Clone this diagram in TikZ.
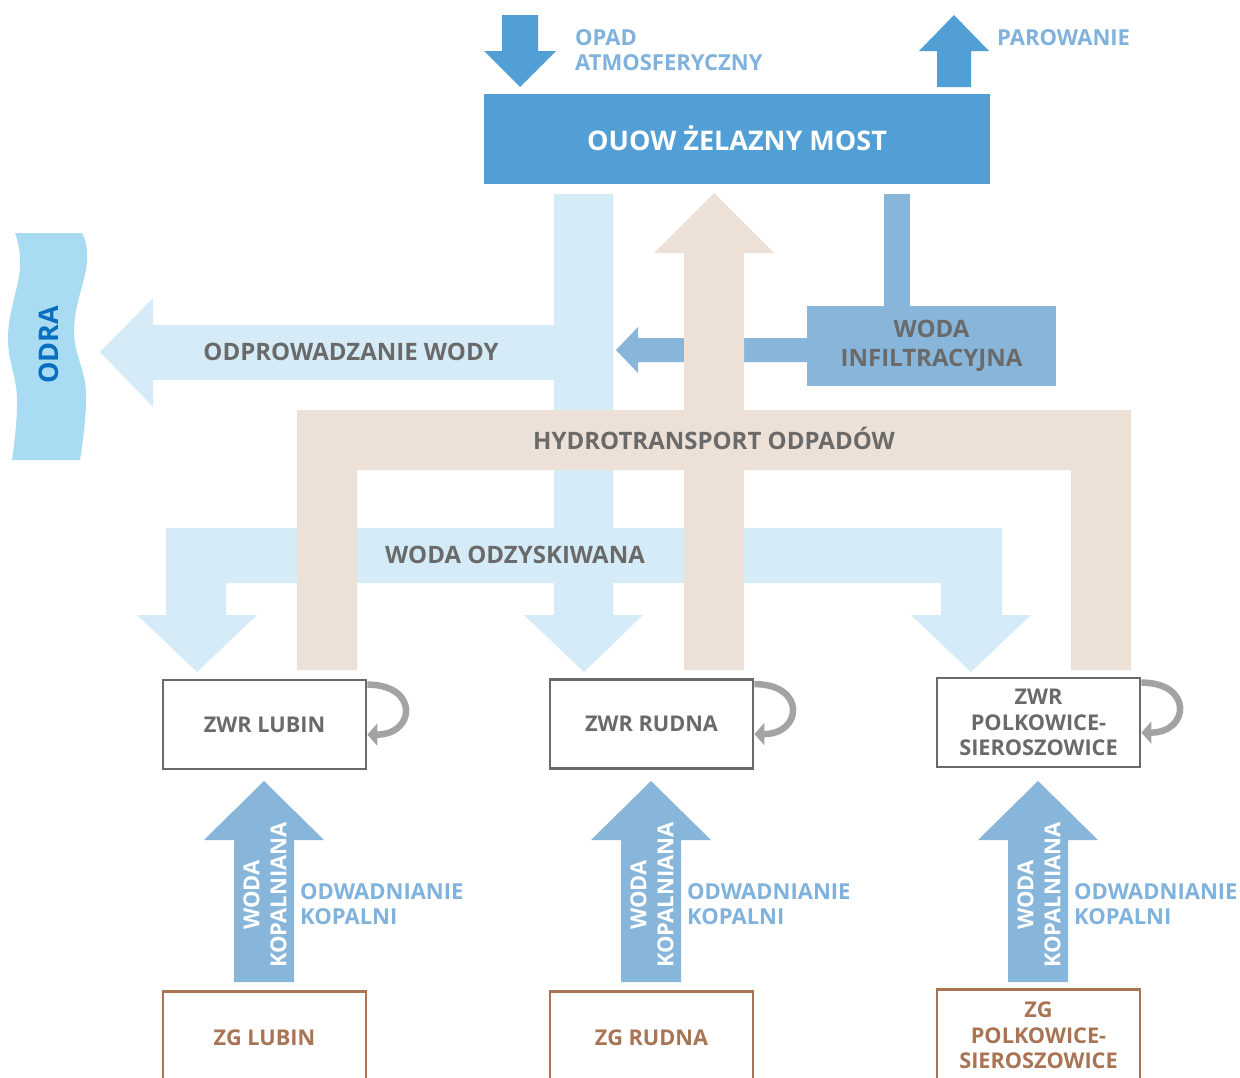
\documentclass[tikz,border=0pt]{standalone}
\usepackage{fontspec}
\setmainfont{Open Sans}
\usetikzlibrary{arrows.meta}
\definecolor{mostblue}{RGB}{82,159,214}
\definecolor{midblue}{RGB}{136,182,218}
\definecolor{paleblue}{RGB}{213,236,248}
\definecolor{sludge}{RGB}{237,224,214}
\definecolor{greytext}{RGB}{106,106,106}
\definecolor{labelblue}{RGB}{127,178,220}
\definecolor{minebrown}{RGB}{168,116,84}
\definecolor{riverblue}{RGB}{169,220,243}
\definecolor{odrablue}{RGB}{10,110,192}
\definecolor{loopgrey}{RGB}{163,163,163}

\begin{document}
\begin{tikzpicture}[x=1pt,y=-1pt,
  lbl/.style={text=greytext,font=\bfseries\fontsize{24}{29}\selectfont,align=center,inner sep=0pt},
  side/.style={text=labelblue,font=\bfseries\fontsize{22}{25}\selectfont,align=left,anchor=west,inner sep=0pt},
  plant/.style={draw=greytext,line width=2.8pt,fill=white,minimum width=203pt,minimum height=89pt,
                inner sep=0pt,align=center,text=greytext,font=\bfseries\fontsize{21.7}{25.5}\selectfont},
  mine/.style={plant,draw=minebrown,text=minebrown,minimum height=92pt},
  recycle/.style={draw=loopgrey,line width=6.5pt,-{Triangle[length=10pt,width=22pt]}},
]
\useasboundingbox (0,0) rectangle (1240,1077);
\clip (0,0) rectangle (1240,1077);
\fill[white] (0,0) rectangle (1240,1077);
% ---------- reservoir ----------
\fill[mostblue] (502,15) -- (538,15) -- (538,51) -- (556,51) -- (520,87) -- (484,51) -- (502,51) -- cycle;
\fill[mostblue] (937,87) -- (971,87) -- (971,51) -- (989,51) -- (954,15) -- (919,51) -- (937,51) -- cycle;
\node[side] (opad) at (575,50.5) {OPAD\\ATMOSFERYCZNY};
\node[side] (parow) at (997,38) {PAROWANIE};
\node[fill=mostblue,minimum width=506pt,minimum height=90pt,text=white,
      font=\bfseries\fontsize{27}{30}\selectfont] (ouow) at (737,139) {\raisebox{2pt}{OUOW ŻELAZNY MOST}};
% ---------- river ----------
\fill[riverblue] plot[smooth,tension=0.7] coordinates {(82,233) (87,262) (74,330) (86,392) (80,460)}
      -- plot[smooth,tension=0.7] coordinates {(12,460) (17,398) (8,336) (20,268) (15,233)} -- cycle;
\node[rotate=90,text=odrablue,font=\bfseries\fontsize{27}{27}\selectfont] (odra) at (49,345) {ODRA};
% ---------- recovered water (pale blue) ----------
% outflow shaft and middle arrow
\fill[paleblue] (554,194) -- (613,194) -- (613,615) -- (643,615) -- (584,672) -- (524,615) -- (554,615) -- cycle;
% discharge to the river
\fill[paleblue] (554,325) -- (153,325) -- (153,298) -- (100,352) -- (153,407) -- (153,380) -- (554,380) -- cycle;
% return band with outer arrows
\fill[paleblue] (166,528) -- (1002,528) -- (1002,615) -- (1031,615) -- (971,672) -- (911,615) -- (941,615)
      -- (941,583) -- (226,583) -- (226,615) -- (257,615) -- (197,672) -- (137,615) -- (166,615) -- cycle;
% ---------- infiltration ----------
\fill[midblue] (884,194) rectangle (910,310);
\fill[midblue] (807,338) -- (638,338) -- (638,327) -- (616,350) -- (638,373) -- (638,362) -- (807,362) -- cycle;
\node[lbl,fill=midblue,minimum width=249pt,minimum height=80pt] (infil) at (931.5,346) {WODA\\INFILTRACYJNA};
% ---------- tailings transport (beige) ----------
\fill[sludge] (297,670) -- (297,410) -- (1131,410) -- (1131,670) -- (1071,670) -- (1071,470) -- (744,470)
      -- (744,670) -- (684,670) -- (684,470) -- (357,470) -- (357,670) -- cycle;
\fill[sludge] (684,411) -- (684,253) -- (654,253) -- (714,193) -- (774,253) -- (744,253) -- (744,411) -- cycle;
% ---------- flow labels ----------
\node[lbl] (odprow) at (351,352) {ODPROWADZANIE WODY};
\node[lbl] (hydro) at (714,438) {HYDROTRANSPORT ODPADÓW};
\node[lbl] (odzysk) at (515,555) {WODA ODZYSKIWANA};
% ---------- concentrators ----------
\node[plant] (lubin) at (264.5,724.5) {ZWR LUBIN};
\node[plant] (rudna) at (651.5,724) {ZWR RUDNA};
\node[plant] (polk) at (1038.5,722.5) {ZWR\\POLKOWICE-\\SIEROSZOWICE};
\foreach \nm in {lubin,rudna,polk}
  \draw[recycle] ([yshift=-6pt]\nm.north east) .. controls +(52,0) and +(48,0) .. ([yshift=-56pt]\nm.north east);
% ---------- mines and mine water ----------
\foreach \cx/\nm in {264/lubin,651/rudna,1038/polk} {
  \fill[midblue] (\cx-30,982) -- (\cx-30,840) -- (\cx-60,840) -- (\cx,781) -- (\cx+60,840)
        -- (\cx+30,840) -- (\cx+30,982) -- cycle;
  \node[rotate=90,text=white,align=center,inner sep=0pt,
        font=\bfseries\fontsize{22}{27}\selectfont] (kop-\nm) at (\cx+1,895) {WODA\\KOPALNIANA};
  \node[side] (odw-\nm) at (\cx+36,904.5) {ODWADNIANIE\\KOPALNI};
}
\node[mine,anchor=north] (zg-lubin) at (264.5,990) {ZG LUBIN};
\node[mine,anchor=north] (zg-rudna) at (651.5,990) {ZG RUDNA};
\node[mine,anchor=north] (zg-polk) at (1038.5,988) {ZG\\POLKOWICE-\\SIEROSZOWICE};
\end{tikzpicture}
\end{document}
